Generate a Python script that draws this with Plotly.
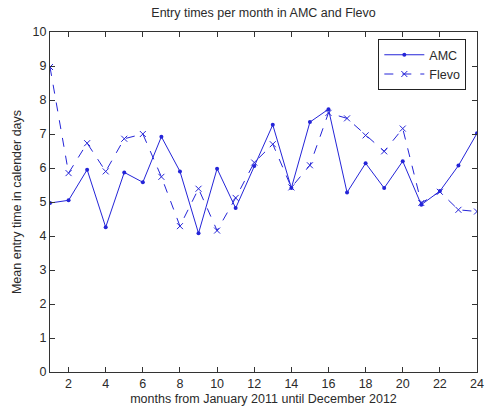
import plotly.graph_objects as go

months = list(range(1, 25))
amc = [4.97, 5.05, 5.95, 4.26, 5.87, 5.58, 6.92, 5.9, 4.08, 5.98, 4.82, 6.06,
       7.27, 5.41, 7.35, 7.73, 5.28, 6.14, 5.41, 6.2, 4.92, 5.32, 6.07, 7.02]
flevo = [8.97, 5.85, 6.73, 5.9, 6.86, 7.0, 5.74, 4.29, 5.39, 4.16, 5.12, 6.16,
         6.7, 5.43, 6.08, 7.62, 7.46, 6.96, 6.49, 7.16, 4.97, 5.3, 4.77, 4.72]

line_col = "#2424d8"
font = dict(family="Liberation Sans, Arial, sans-serif", size=12.5, color="#2a2a2a")

fig = go.Figure()
fig.add_trace(go.Scatter(x=months, y=amc, name="AMC", mode="lines+markers",
                         line=dict(color=line_col, width=1),
                         marker=dict(symbol="circle", size=4, color=line_col)))
fig.add_trace(go.Scatter(x=months, y=flevo, name="Flevo", mode="lines+markers",
                         line=dict(color=line_col, width=1, dash="dash"),
                         marker=dict(symbol="x-thin", size=6,
                                     line=dict(color=line_col, width=1), color=line_col)))

axis_common = dict(showline=True, linecolor="#333333", linewidth=1, mirror="ticks",
                   ticks="inside", ticklen=5, tickcolor="#333333", showgrid=False,
                   zeroline=False, tickfont=font, ticklabeloverflow="allow")

fig.update_layout(
    width=486, height=407,
    margin=dict(l=50, r=2, t=32, b=35),
    paper_bgcolor="white", plot_bgcolor="white",
    font=font,
    title=dict(text="Entry times per month in AMC and Flevo", x=0.5, xref="paper",
               xanchor="center", y=1 - 13/407, yanchor="middle", font=font),
    xaxis=dict(range=[1, 24], tickmode="array", tickvals=list(range(2, 25, 2)),
               title=dict(text="months from January 2011 until December 2012", font=font,
                          standoff=4), **axis_common),
    yaxis=dict(range=[0, 10], tickmode="array", tickvals=list(range(0, 11)),
               title=dict(text="Mean entry time in calender days", font=font, standoff=8),
               **axis_common),
    legend=dict(x=0.975, y=0.979, xanchor="right", yanchor="top",
                bordercolor="#222222", borderwidth=1, bgcolor="white",
                font=font, tracegroupgap=0, itemwidth=40),
    showlegend=True,
)

fig.write_html("out.html")
